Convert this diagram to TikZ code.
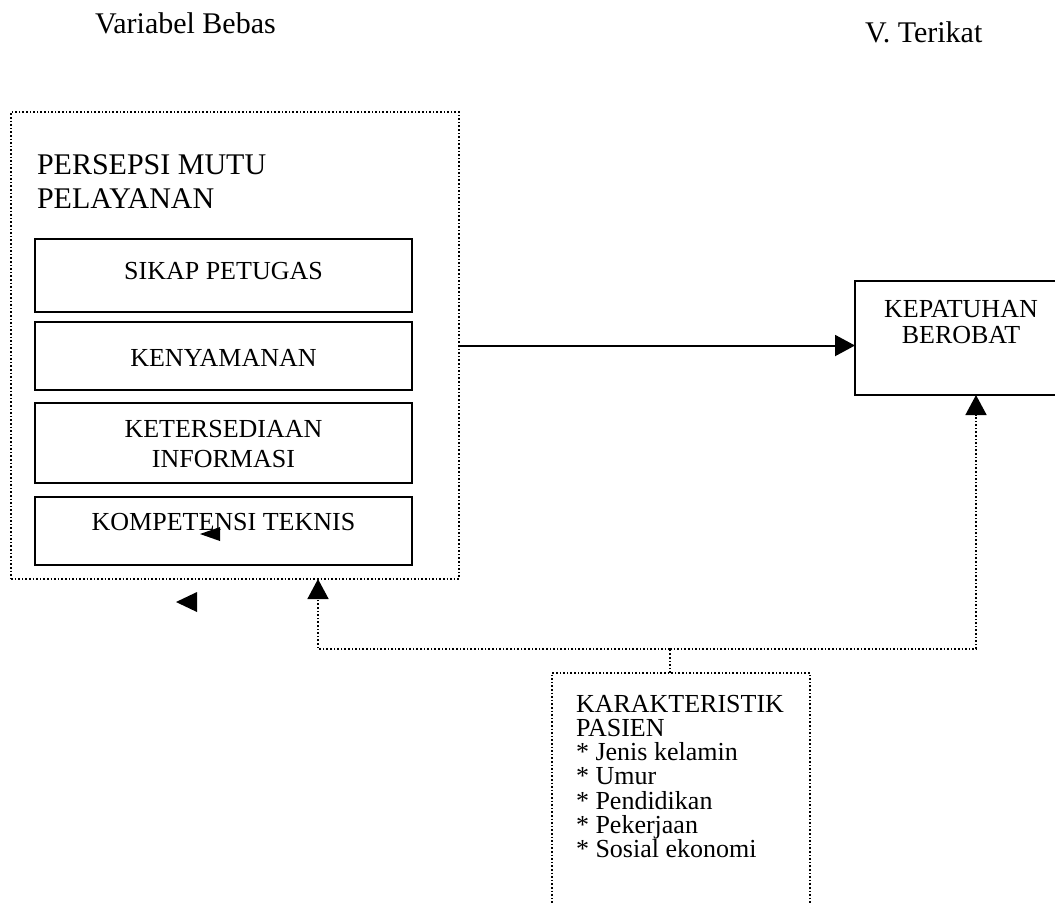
\documentclass[tikz,border=0pt]{standalone}
\usepackage{fontspec}
\setmainfont{Liberation Serif}
\usepackage{tikz}
\usetikzlibrary{positioning,arrows.meta,calc}

\tikzset{
  solidbox/.style={draw,line width=1.2pt,rectangle,inner sep=0pt,outer sep=0pt,minimum width=188.5pt},
  dotbox/.style={draw,densely dotted,line width=0.8pt,rectangle,inner sep=0pt,outer sep=0pt},
  txt/.style={inner sep=0pt,outer sep=0pt,align=center,font=\fontsize{13}{15}\selectfont},
  bigtxt/.style={txt,font=\fontsize{15}{17}\selectfont},
  conn/.style={densely dotted,line width=0.8pt},
  tip/.style={-{Triangle[length=10pt,width=10.5pt]}}
}

\begin{document}
\begin{tikzpicture}[x=0.5pt,y=-0.5pt]
\useasboundingbox (0,0) rectangle (1055,902);
\clip (0,0) rectangle (1055,902);

% column headings
\node[bigtxt,anchor=base west] (bebas) at (95,33) {Variabel Bebas};
\node[bigtxt,anchor=base west] (terikat) at (865,42) {V. Terikat};

% independent variable block
\node[dotbox,anchor=north west,minimum width=224pt,minimum height=233.5pt] (persepsi) at (11,112) {};
\node[bigtxt,align=left,below right=21.5pt and 13pt of persepsi.north west] (persepsitxt) {PERSEPSI MUTU\\PELAYANAN};

\node[solidbox,anchor=north west,minimum height=36.5pt] (sikap) at (35,239) {};
\node[txt,below=11.5pt of sikap.north] (sikaptxt) {SIKAP PETUGAS};
\node[solidbox,below=5pt of sikap,minimum height=34pt] (nyaman) {};
\node[txt,below=13.5pt of nyaman.north] (nyamantxt) {KENYAMANAN};
\node[solidbox,below=6.5pt of nyaman,minimum height=40pt] (info) {};
\node[txt,below=8.5pt of info.north] (infotxt) {KETERSEDIAAN\\INFORMASI};
\node[solidbox,below=7pt of info,minimum height=34pt] (teknis) {};
\node[txt,below=8pt of teknis.north] (teknistxt) {KOMPETENSI TEKNIS};

% loose arrowheads
\fill (200,534) -- (220,527) -- (220,541) -- cycle;
\fill (176,602) -- (197,592) -- (197,612) -- cycle;

% dependent variable
\node[draw,line width=1.2pt,rectangle,inner sep=0pt,outer sep=0pt,anchor=north west,minimum width=121pt,minimum height=57pt] (patuh) at (855,281) {};
\node[txt,font=\fontsize{13}{13}\selectfont,below=9.5pt of patuh.north,xshift=-7.5pt] (patuhtxt) {KEPATUHAN\\BEROBAT};

% patient characteristics
\node[dotbox,anchor=north west,minimum width=129pt,minimum height=130pt] (karak) at (552,673) {};
\node[txt,align=left,font=\fontsize{13}{12.1}\selectfont,below right=11pt and 12pt of karak.north west] (karaktxt)
  {KARAKTERISTIK\\PASIEN\\* Jenis kelamin\\* Umur\\* Pendidikan\\* Pekerjaan\\* Sosial ekonomi};

% connectors
\coordinate (split) at (670,649);
\coordinate (intoA) at (318,649);
\draw[line width=1pt,tip] (persepsi.east) -- (persepsi.east -| patuh.west);
\draw[conn] (split |- karak.north) -- (split);
\draw[conn,tip] (split) -- (intoA) -- (intoA |- persepsi.south);
\draw[conn,tip] (split) -| (patuh.south);
\end{tikzpicture}
\end{document}
